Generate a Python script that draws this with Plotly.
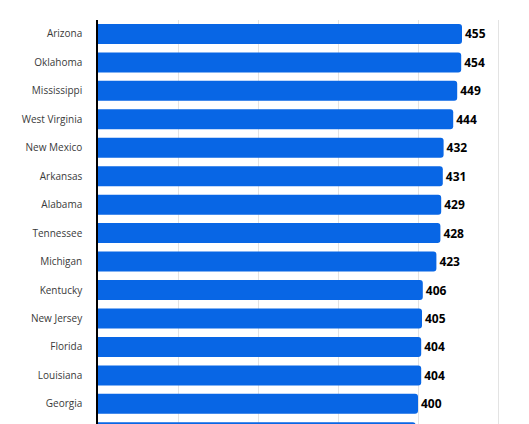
import plotly.graph_objects as go

# states, ordered top to bottom; the last one is cut off by the bottom edge
states = ['Arizona', 'Oklahoma', 'Mississippi', 'West Virginia', 'New Mexico',
          'Arkansas', 'Alabama', 'Tennessee', 'Michigan', 'Kentucky',
          'New Jersey', 'Florida', 'Louisiana', 'Georgia', 'Ohio']
values = [455, 454, 449, 444, 432, 431, 429, 428, 423, 406, 405, 404, 404, 400, 397]
grid_ticks = [0, 100, 200, 300, 400, 500]

bar_color = '#0866E5'

fig = go.Figure()
fig.add_trace(go.Bar(
    x=values,
    y=states,
    orientation='h',
    marker=dict(color=bar_color, cornerradius=3, line=dict(width=0)),
    text=values,
    texttemplate='<b>%{text}</b>',
    textposition='outside',
    textfont=dict(family='Open Sans', size=12, color='#000000'),
    cliponaxis=False,
    hoverinfo='skip',
))

# the page body has an 8px default margin, so margins are shifted by that
fig.update_layout(
    width=529,
    height=424,
    margin=dict(l=90, r=29, t=12, b=0, autoexpand=False),
    paper_bgcolor='white',
    plot_bgcolor='white',
    bargap=0.297,
    showlegend=False,
    font=dict(family='Open Sans', size=10, color='#3a3a3a'),
    xaxis=dict(
        range=[0, 512.5],
        tickvals=grid_ticks,
        showticklabels=False,
        showgrid=True,
        gridcolor='#e3e3e3',
        gridwidth=1,
        zeroline=False,
        fixedrange=True,
        automargin=False,
    ),
    yaxis=dict(
        type='category',
        range=[13.99, -0.49],
        showline=True,
        linecolor='#000000',
        linewidth=1.5,
        showgrid=False,
        ticks='outside',
        ticklen=12,
        tickcolor='rgba(0,0,0,0)',
        tickfont=dict(family='Open Sans', size=10, color='#3a3a3a'),
        fixedrange=True,
        automargin=False,
    ),
)

fig.write_html("out.html")
